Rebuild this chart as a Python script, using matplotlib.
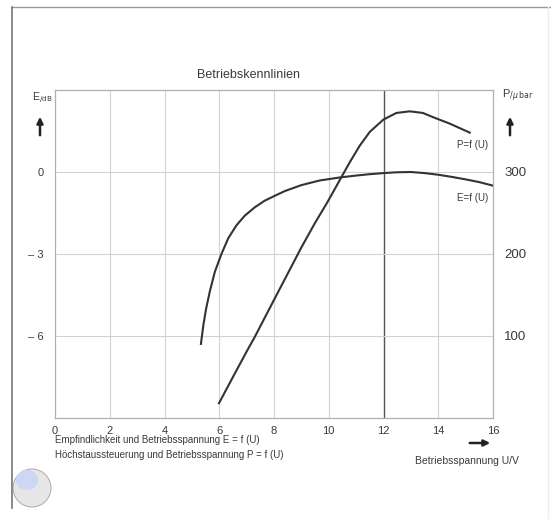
import matplotlib
matplotlib.use('Agg')
import matplotlib.pyplot as plt
from matplotlib.patches import Ellipse, FancyArrowPatch
from matplotlib.lines import Line2D

W, H = 551, 519

# Betriebsspannung U/V -> Empfindlichkeit E/dB
u_e = [5.33, 5.42, 5.52, 5.66, 5.84, 6.08, 6.33, 6.63, 6.93, 7.3, 7.66, 8.03, 8.39, 9.0,
       9.67, 10.4, 11.0, 11.5, 12.0, 12.5, 13.0, 13.5, 14.0, 14.5, 15.0, 15.5, 16.0]
e_db = [-6.29, -5.6, -5.0, -4.35, -3.65, -3.0, -2.42, -1.95, -1.6, -1.29, -1.05, -0.87,
        -0.7, -0.48, -0.31, -0.2, -0.13, -0.08, -0.04, -0.01, 0.0, -0.04, -0.1, -0.18,
        -0.27, -0.37, -0.5]

# Betriebsspannung U/V -> Hoechstaussteuerung P/ubar
u_p = [5.99, 6.5, 7.0, 7.3, 8.0, 8.5, 9.0, 9.5, 9.93, 10.2, 10.45, 10.77, 11.13, 11.5,
       12.0, 12.47, 12.96, 13.44, 13.8, 14.42, 15.02, 15.15]
p_ubar = [18, 50, 81, 99, 144, 176, 208, 238, 262, 278, 293, 312, 332, 349,
          364, 372, 374, 372, 367, 359, 350, 348]

x_ticks = [0, 2, 4, 6, 8, 10, 12, 14, 16]
e_ticks = [0, -3, -6]
e_tick_labels = ['0', '\u2013 3', '\u2013 6']
p_ticks = [100, 200, 300]

txt = '#3a3a3a'
line_col = '#333333'
grid_col = '#d2d2d2'
plt.rcParams['font.family'] = ['Liberation Sans', 'DejaVu Sans']

fig = plt.figure(figsize=(W / 100, H / 100), dpi=100)
ax = fig.add_axes([55 / W, 1 - 418 / H, (493 - 55) / W, (418 - 90) / H])
ax2 = ax.twinx()

ax.set_xlim(0, 16)
ax.set_ylim(-9, 3)
ax2.set_ylim(0, 400)

for x in x_ticks[1:-1]:
    if x == 12:
        ax.axvline(x, color='#555555', lw=1.0, zorder=1)
    else:
        ax.axvline(x, color=grid_col, lw=0.8, zorder=1)
for y in e_ticks:
    ax.axhline(y, color=grid_col, lw=0.8, zorder=1)

ax.plot(u_e, e_db, color=line_col, lw=1.5, zorder=3, solid_joinstyle='round')
ax2.plot(u_p, p_ubar, color=line_col, lw=1.5, zorder=3, solid_joinstyle='round')

ax.set_xticks(x_ticks)
ax.set_yticks(e_ticks)
ax.set_yticklabels(e_tick_labels)
ax2.set_yticks(p_ticks)
ax.tick_params(axis='x', length=0, labelsize=8, labelcolor=txt, pad=6)
ax.tick_params(axis='y', length=0, labelsize=8, labelcolor=txt, pad=8)
ax2.tick_params(length=0, labelsize=9.5, labelcolor=txt, pad=8)
for a in (ax, ax2):
    for s in a.spines.values():
        s.set_color('#b0b0b0')
        s.set_linewidth(0.8)

fig.text(248 / W, 1 - 75 / H, 'Betriebskennlinien', fontsize=9, color=txt, ha='center', va='center')
fig.text(32 / W, 1 - 98 / H, r'E$_{/\mathrm{dB}}$', fontsize=7.5, color=txt, ha='left', va='center')
fig.text(502 / W, 1 - 96 / H, r'P$_{/\mu\,\mathrm{bar}}$', fontsize=8, color=txt, ha='left', va='center')
fig.text(457 / W, 1 - 145 / H, 'P=f (U)', fontsize=7, color=txt, ha='left', va='center')
fig.text(457 / W, 1 - 198 / H, 'E=f (U)', fontsize=7, color=txt, ha='left', va='center')
fig.text(55 / W, 1 - 440 / H, 'Empfindlichkeit und Betriebsspannung E = f (U)', fontsize=7, color=txt, ha='left', va='center')
fig.text(55 / W, 1 - 455 / H, 'Höchstaussteuerung und Betriebsspannung P = f (U)', fontsize=7, color=txt, ha='left', va='center')
fig.text(415 / W, 1 - 461 / H, 'Betriebsspannung U/V', fontsize=7.5, color=txt, ha='left', va='center')

arrow = dict(arrowstyle='-|>', color='#222222', lw=1.8, mutation_scale=9, transform=fig.transFigure)
fig.add_artist(FancyArrowPatch((40 / W, 1 - 138 / H), (40 / W, 1 - 114 / H), **arrow))
fig.add_artist(FancyArrowPatch((510 / W, 1 - 138 / H), (510 / W, 1 - 114 / H), **arrow))
fig.add_artist(FancyArrowPatch((467 / W, 1 - 443 / H), (493 / W, 1 - 443 / H), **arrow))

# page border of the scan
fig.add_artist(Line2D([12 / W, 1], [1 - 7 / H, 1 - 7 / H], color='#999999', lw=1.0))
fig.add_artist(Line2D([12 / W, 12 / W], [1 - 7 / H, 1 - 508 / H], color='#777777', lw=1.2))
fig.add_artist(Line2D([548 / W, 548 / W], [1 - 7 / H, 1 - 519 / H], color='#eeeeee', lw=1.0))

# small ball in the lower left corner
fig.add_artist(Ellipse((32 / W, 1 - 488 / H), 38 / W, 38 / H, transform=fig.transFigure,
                       facecolor='#e6e6e8', edgecolor='#b8b4a8', lw=0.8))
fig.add_artist(Ellipse((27 / W, 1 - 480 / H), 22 / W, 20 / H, transform=fig.transFigure,
                       facecolor='#cdd6f2', edgecolor='none'))

fig.savefig('out.png', dpi=100)
